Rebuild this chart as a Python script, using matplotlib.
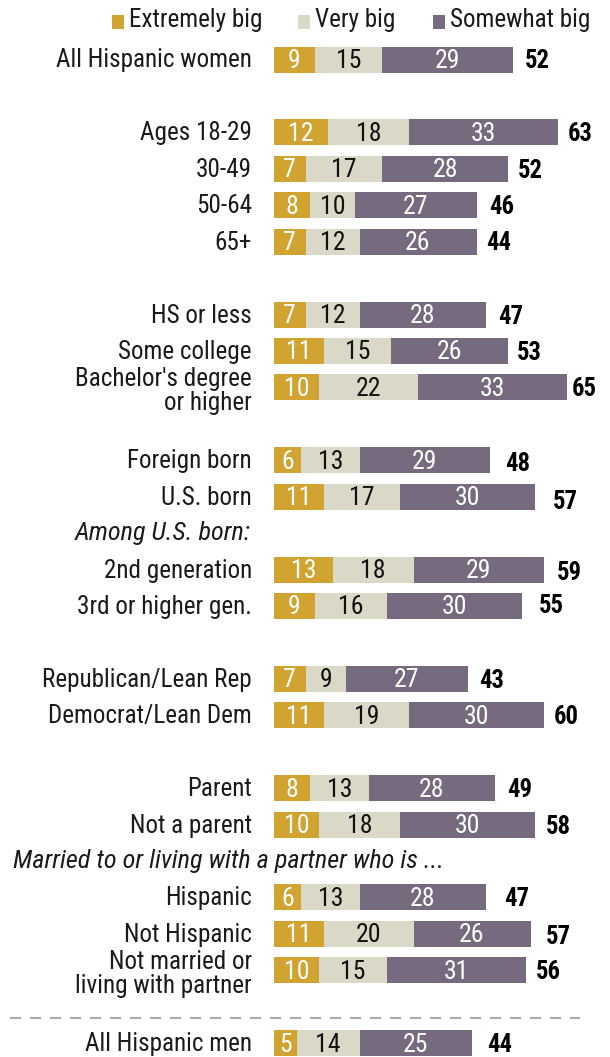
import matplotlib
matplotlib.use("Agg")
import matplotlib.pyplot as plt
from matplotlib import font_manager

# ---- data -------------------------------------------------------------
categories = [
    "All Hispanic women",
    "Ages 18-29", "30-49", "50-64", "65+",
    "HS or less", "Some college", "Bachelor's degree\nor higher",
    "Foreign born", "U.S. born",
    "2nd generation", "3rd or higher gen.",
    "Republican/Lean Rep", "Democrat/Lean Dem",
    "Parent", "Not a parent",
    "Hispanic", "Not Hispanic", "Not married or\nliving with partner",
    "All Hispanic men",
]
extremely_big = [9, 12, 7, 8, 7, 7, 11, 10, 6, 11, 13, 9, 7, 11, 8, 10, 6, 11, 10, 5]
very_big      = [15, 18, 17, 10, 12, 12, 15, 22, 13, 17, 18, 16, 9, 19, 13, 18, 13, 20, 15, 14]
somewhat_big  = [29, 33, 28, 27, 26, 28, 26, 33, 29, 30, 29, 30, 27, 30, 28, 30, 28, 26, 31, 25]
totals        = [52, 63, 52, 46, 44, 47, 53, 65, 48, 57, 59, 55, 43, 60, 49, 58, 47, 57, 56, 44]
series_names = ["Extremely big", "Very big", "Somewhat big"]
subhead_us_born = "Among U.S. born:"
subhead_partner = "Married to or living with a partner who is ..."

# ---- layout -----------------------------------------------------------
# row slots in units of one row pitch; empty slots separate the groups
slots = [0, 2, 3, 4, 5, 7, 8, 9, 11, 12, 14, 15, 17, 18, 20, 21, 23, 24, 25, 27]
us_born_slot, partner_slot, divider_slot = 13, 22, 26.3
# hand-set spacing (px) between bar end and its total, and vertical nudge
total_gap = [12, 10.5, 10, 13, 10, 12.5, 9, 5, 15, 17.7, 12.7, 17.6,
             11.5, 10, 13, 11, 19, 15.5, 10, 14.7]
total_dy = [2, 2, 2, 2, 1.5, 2, 2, 2, 4, 5, 3, 0, 2, 2, 2, 2, 2, 3.6, 2, 2]

# ---- fonts ------------------------------------------------------------
faces = font_manager.fontManager.ttflist
avail = {f.name for f in faces}

def first(names, need_bold=False, need_italic=False):
    for n in names:
        fs = [f for f in faces if f.name == n]
        if not fs:
            continue
        if need_bold and not any(int(f.weight) >= 700 for f in fs if str(f.weight).isdigit()):
            continue
        if need_italic and not any(f.style == "italic" for f in fs):
            continue
        return n
    return "DejaVu Sans"

base = first(["Roboto Condensed", "Archivo Narrow", "Fira Sans Condensed",
              "IBM Plex Sans Condensed"])
italic_face = first(["Roboto Condensed", "Archivo Narrow", "Fira Sans Condensed"],
                    need_italic=True)
bold_face = first(["Libre Franklin", "Roboto Condensed", "Archivo Narrow",
                   "Liberation Sans"], need_bold=True)
plt.rcParams["font.family"] = [base, "DejaVu Sans"]

colors = ["#D1A431", "#DAD8C7", "#766A7E"]
text_colors = ["white", "#111111", "white"]

W, H, DPI = 610, 1057, 100
fig = plt.figure(figsize=(W / DPI, H / DPI), dpi=DPI)
ax = fig.add_axes([0, 0, 1, 1])
px_per_unit = 4.5
x0 = 274  # pixel column where the bars start
ax.set_xlim(-x0 / px_per_unit, (W - x0) / px_per_unit)
ax.set_ylim(H, 0)
ax.axis("off")
renderer = fig.canvas.get_renderer()

def fit_size(text, target_px, **kw):
    """Font size (pt) that makes `text` span `target_px` pixels."""
    t = fig.text(0, 0, text, fontsize=10, **kw)
    w = t.get_window_extent(renderer).width
    t.remove()
    return 10 * target_px / w

label_fs = fit_size("All Hispanic women", 195)
value_fs = fit_size("12", 25)
total_fs = fit_size("63", 25, family=[bold_face, "DejaVu Sans"], fontweight="bold")
italic_fs = fit_size(subhead_us_born, 175, style="italic",
                     family=[italic_face, "DejaVu Sans"])
legend_fs = fit_size(series_names[0], 133)

def px(xp):
    return (xp - x0) / px_per_unit

row0, pitch, bar_h = 59.5, 36.43, 26

def ypos(slot):
    return row0 + pitch * slot

for i, cat in enumerate(categories):
    y = ypos(slots[i])
    left = 0
    for s, vals in enumerate([extremely_big, very_big, somewhat_big]):
        v = vals[i]
        ax.barh(y, v, left=left, height=bar_h, color=colors[s], edgecolor="none")
        ax.text(left + v / 2, y + 1.5, str(v), ha="center", va="center",
                fontsize=value_fs, color=text_colors[s])
        left += v
    ax.text(left + total_gap[i] / px_per_unit, y + total_dy[i], str(totals[i]),
            ha="left", va="center", fontsize=total_fs, fontweight="bold",
            family=[bold_face, "DejaVu Sans"], color="black")
    two_line = "\n" in cat
    ax.text(px(252), y + (4 if two_line else 1), cat, ha="right", va="center",
            fontsize=label_fs, color="#1a1a1a", linespacing=1.0)

for slot, txt, xp, ha in [(us_born_slot, subhead_us_born, 251, "right"),
                          (partner_slot, subhead_partner, 13, "left")]:
    ax.text(px(xp), ypos(slot), txt, ha=ha, va="center", fontsize=italic_fs,
            style="italic", family=[italic_face, "DejaVu Sans"], color="#1a1a1a")

ax.plot([px(10), px(580)], [ypos(divider_slot)] * 2, color="#AAAAAA",
        lw=1.5, ls=(0, (5.3, 4.3)), solid_capstyle="butt", dash_capstyle="butt")

# legend row
for s, xs in enumerate([112, 298, 433]):
    ax.barh(22, 12 / px_per_unit, left=px(xs), height=14, color=colors[s])
    ax.text(px(xs + 17), 20, series_names[s], ha="left", va="center",
            fontsize=legend_fs, color="#1a1a1a")

fig.savefig("out.png", dpi=DPI)
